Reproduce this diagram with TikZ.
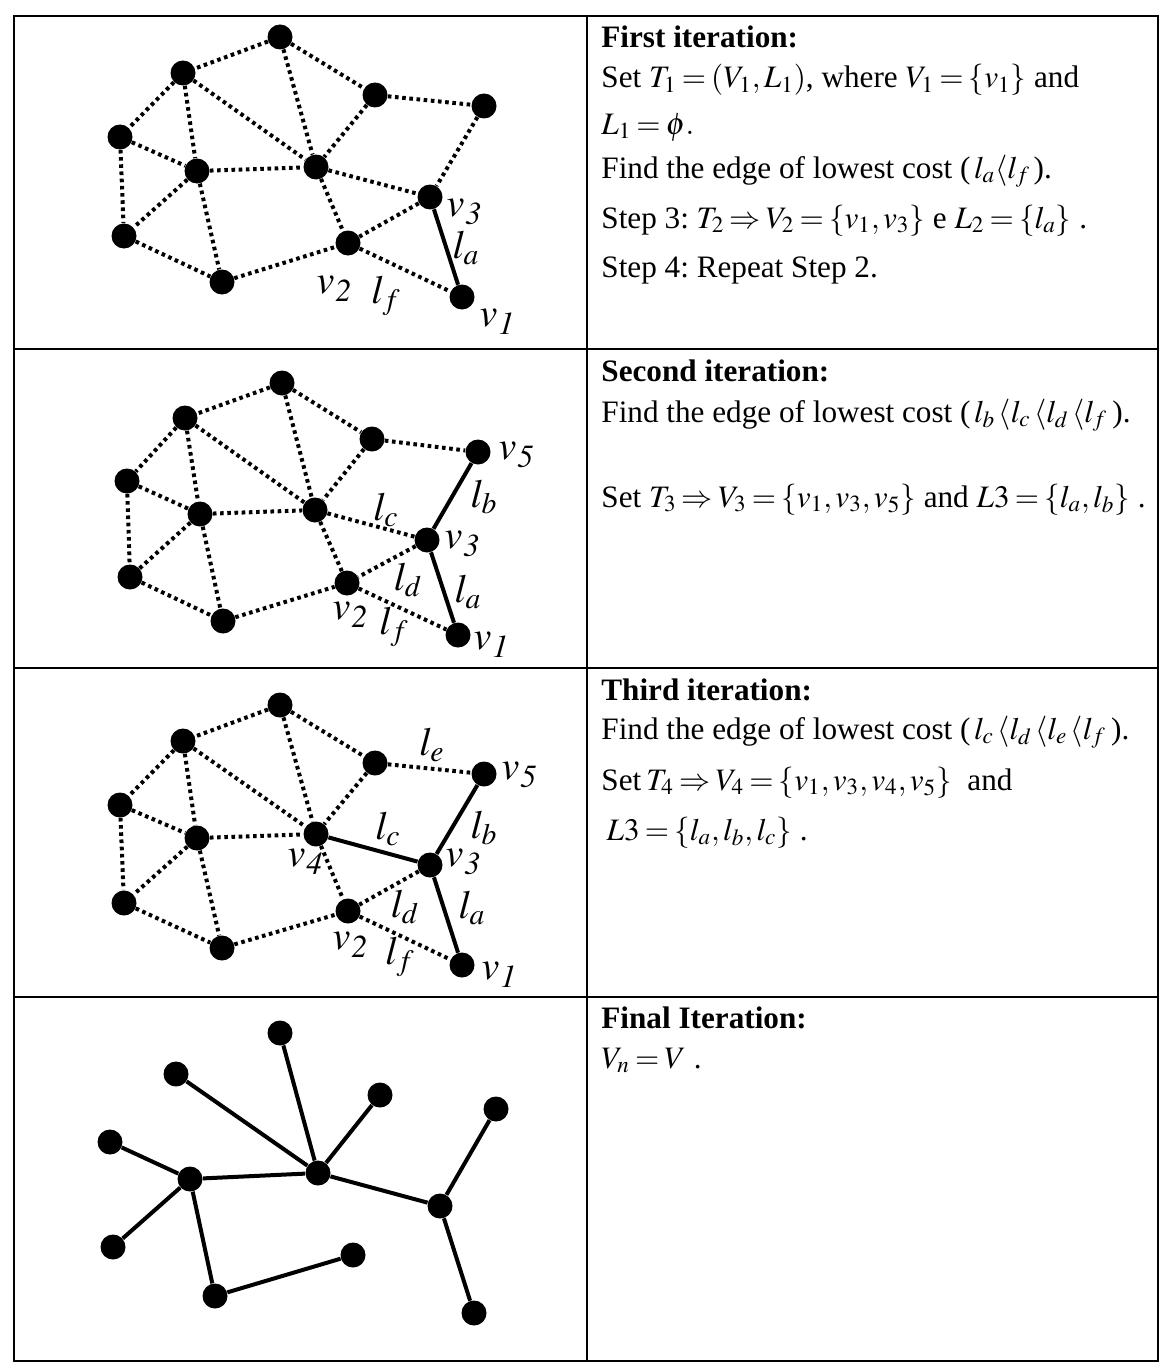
\documentclass[tikz,border=0pt]{standalone}
\usepackage{mathptmx}
\usepackage[no-math]{fontspec}
\setmainfont{Liberation Serif}
\usepackage{tikz}
\usetikzlibrary{%
  positioning
 ,calc
}
\newcommand{\vl}[1]{$v$\kern0.5pt\raisebox{-0.2em}{\fontsize{16}{16}\selectfont$\mathit{#1}$}}
\tikzstyle{grid}=[x=0.5pt,y=-0.5pt]
\tikzstyle{vx}=[circle,fill=black,inner sep=0pt,minimum size=12.5pt]
\tikzstyle{dots}=[line width=2pt,dash pattern=on 1.8pt off 1.8pt]
\tikzstyle{tree}=[line width=2pt]
\tikzstyle{lab}=[inner sep=0pt,font=\fontsize{20}{24}\selectfont]
\tikzstyle{txt}=[anchor=base west,inner sep=0pt,font=\fontsize{15.6}{18}\selectfont]
\tikzstyle{cell}=[line width=1pt]

\begin{document}
\frenchspacing
\thickmuskip=3mu plus 1mu
\medmuskip=2.5mu
\begin{tikzpicture}[grid]
  \useasboundingbox (0,0) rectangle (1172,1370);
  % table
  \draw[cell] (14,16) rectangle (1158,1361);
  \draw[cell] (587,16) -- (587,1361);
  \draw[cell] (14,349) -- (1158,349) (14,668) -- (1158,668) (14,997) -- (1158,997);

  % first iteration
  \node[vx] (a1) at (280,37) {};   \node[vx] (a2) at (183,73) {};
  \node[vx] (a3) at (375,95) {};   \node[vx] (a4) at (484,106) {};
  \node[vx] (a5) at (120,137) {};  \node[vx] (a6) at (197,171) {};
  \node[vx] (a7) at (316,167) {};  \node[vx] (a8) at (430,197) {};
  \node[vx] (a9) at (124,236) {};  \node[vx] (a10) at (348,243) {};
  \node[vx] (a11) at (222,282) {}; \node[vx] (a12) at (462,297) {};
  \path[dots]
    (a1) edge (a2) (a1) edge (a3) (a1) edge (a7) (a2) edge (a5) (a2) edge (a6)
    (a2) edge (a7) (a3) edge (a4) (a3) edge (a7) (a4) edge (a8) (a5) edge (a6)
    (a5) edge (a9) (a6) edge (a7) (a6) edge (a9) (a6) edge (a11) (a7) edge (a8)
    (a7) edge (a10) (a8) edge (a10) (a10) edge (a12) (a9) edge (a11) (a11) edge (a10);
  \draw[tree] (a8) -- (a12);
  \node[lab] at (464,212) {\vl{3}};
  \node[lab] at (466,248) {$l_a$};
  \node[lab] at (334,289) {\vl{2}};
  \node[lab] at (386,296) {$l_f$};
  \node[lab] at (497,322) {\vl{1}};

  \node[txt] (t1) at (601,48) {\textbf{First iteration:}};
  \node[txt] (t2) at (601,88) {Set $T_1=(V_1,L_1)$, where $V_1=\{v_1\}$ and};
  \node[txt] (t3) at (601,134) {$L_1=\phi.$};
  \node[txt] (t4) at (601,178) {Find the edge of lowest cost ($\,l_a\langle l_f\,$).};
  \node[txt] (t5) at (601,228) {Step 3: $T_2\Rightarrow V_2=\{v_1,v_3\}$ e $L_2=\{l_a\}$ .};
  \node[txt] (t6) at (601,277) {Step 4: Repeat Step 2.};

  % second iteration
  \node[vx] (b1) at (282,383) {};  \node[vx] (b2) at (185,418) {};
  \node[vx] (b3) at (372,439) {};  \node[vx] (b4) at (478,452) {};
  \node[vx] (b5) at (127,481) {};  \node[vx] (b6) at (200,514) {};
  \node[vx] (b7) at (315,510) {};  \node[vx] (b8) at (427,540) {};
  \node[vx] (b9) at (130,577) {};  \node[vx] (b10) at (347,583) {};
  \node[vx] (b11) at (223,621) {}; \node[vx] (b12) at (458,635) {};
  \path[dots]
    (b1) edge (b2) (b1) edge (b3) (b1) edge (b7) (b2) edge (b5) (b2) edge (b6)
    (b2) edge (b7) (b3) edge (b4) (b3) edge (b7) (b5) edge (b6) (b5) edge (b9)
    (b6) edge (b7) (b6) edge (b9) (b6) edge (b11) (b7) edge (b8) (b7) edge (b10)
    (b8) edge (b10) (b10) edge (b12) (b9) edge (b11) (b11) edge (b10);
  \draw[tree] (b8) -- (b12) (b8) -- (b4);
  \node[lab] at (516,455) {\vl{5}};
  \node[lab] at (484,497) {$l_b$};
  \node[lab] at (386,510) {$l_c$};
  \node[lab] at (462,544) {\vl{3}};
  \node[lab] at (408,580) {$l_d$};
  \node[lab] at (468,592) {$l_a$};
  \node[lab] at (350,615) {\vl{2}};
  \node[lab] at (394,627) {$l_f$};
  \node[lab] at (491,645) {\vl{1}};

  \node[txt] (s1) at (601,381) {\textbf{Second iteration:}};
  \node[txt] (s2) at (601,422) {Find the edge of lowest cost ($\,l_b\,\langle l_c\,\langle l_d\,\langle l_f\;$).};
  \node[txt] (s3) at (601,507) {Set $T_3\Rightarrow V_3=\{v_1,v_3,v_5\}$ and $L3=\{l_a,l_b\}$ .};

  % third iteration
  \node[vx] (c1) at (280,705) {};  \node[vx] (c2) at (183,741) {};
  \node[vx] (c3) at (375,763) {};  \node[vx] (c4) at (484,774) {};
  \node[vx] (c5) at (120,805) {};  \node[vx] (c6) at (197,838) {};
  \node[vx] (c7) at (316,834) {};  \node[vx] (c8) at (430,865) {};
  \node[vx] (c9) at (124,903) {};  \node[vx] (c10) at (348,911) {};
  \node[vx] (c11) at (222,948) {}; \node[vx] (c12) at (462,965) {};
  \path[dots]
    (c1) edge (c2) (c1) edge (c3) (c1) edge (c7) (c2) edge (c5) (c2) edge (c6)
    (c2) edge (c7) (c3) edge (c4) (c3) edge (c7) (c5) edge (c6) (c5) edge (c9)
    (c6) edge (c7) (c6) edge (c9) (c6) edge (c11) (c7) edge (c10)
    (c8) edge (c10) (c10) edge (c12) (c9) edge (c11) (c11) edge (c10);
  \draw[tree] (c8) -- (c12) (c8) -- (c4) (c8) -- (c7);
  \node[lab] at (432,745) {$l_e$};
  \node[lab] at (519,775) {\vl{5}};
  \node[lab] at (388,829) {$l_c$};
  \node[lab] at (484,828) {$l_b$};
  \node[lab] at (305,862) {\vl{4}};
  \node[lab] at (463,862) {\vl{3}};
  \node[lab] at (405,907) {$l_d$};
  \node[lab] at (472,908) {$l_a$};
  \node[lab] at (350,945) {\vl{2}};
  \node[lab] at (400,957) {$l_f$};
  \node[lab] at (499,975) {\vl{1}};

  \node[txt] (u1) at (601,700) {\textbf{Third iteration:}};
  \node[txt] (u2) at (601,739) {Find the edge of lowest cost ($\,l_c\,\langle l_d\,\langle l_e\,\langle l_f\;$).};
  \node[txt] (u3) at (601,790) {Set\,$T_4\Rightarrow V_4=\{v_1,v_3,v_4,v_5\}$\ \ and};
  \node[txt] (u4) at (601,840) {\,$L3=\{l_a,l_b,l_c\}$ .};

  % final iteration
  \node[vx] (d1) at (280,1033) {};  \node[vx] (d2) at (176,1074) {};
  \node[vx] (d3) at (380,1095) {};  \node[vx] (d4) at (496,1109) {};
  \node[vx] (d5) at (110,1142) {};  \node[vx] (d6) at (190,1179) {};
  \node[vx] (d7) at (318,1173) {};  \node[vx] (d8) at (440,1206) {};
  \node[vx] (d9) at (113,1247) {};  \node[vx] (d10) at (353,1255) {};
  \node[vx] (d11) at (215,1296) {}; \node[vx] (d12) at (474,1313) {};
  \path[tree]
    (d2) edge (d7) (d1) edge (d7) (d3) edge (d7) (d5) edge (d6) (d6) edge (d7)
    (d7) edge (d8) (d8) edge (d4) (d6) edge (d9) (d6) edge (d11) (d11) edge (d10)
    (d8) edge (d12);

  \node[txt] (f1) at (601,1028) {\textbf{Final Iteration:}};
  \node[txt] (f2) at (601,1068) {$V_n=V$ .};
\end{tikzpicture}
\end{document}
